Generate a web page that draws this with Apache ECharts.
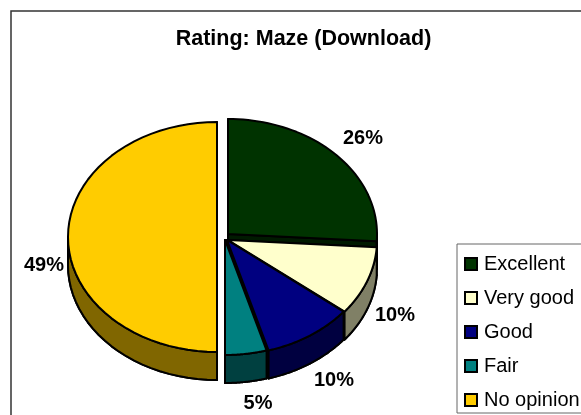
<!DOCTYPE html>
<html>
<head>
<meta charset="utf-8">
<style>html,body{margin:0;padding:0;background:#fff}#chart{width:581px;height:415px}</style>
<script src="https://cdn.jsdelivr.net/npm/echarts@6/dist/echarts.min.js"></script>
</head>
<body>
<div id="chart"></div>
<script>
var categories = ['Excellent', 'Very good', 'Good', 'Fair', 'No opinion'];
// share of the disc each slice covers
var shares = [26, 9.7, 9.8, 4.5, 50];
var labels = ['26%', '10%', '10%', '5%', '49%'];

var faceColors = ['#003300', '#ffffcc', '#000080', '#008080', '#ffcc00'];
var wallColors = ['#001a00', '#808066', '#000040', '#004040', '#806600'];
var centers = [[228, 234], [228, 240], [227, 240], [225, 240], [217, 237]];
var labelPos = [[363, 138], [395, 315], [334, 380], [258, 403], [44, 265]];
var RX = 149, RY = 115, DEPTH = 28;
var font = 'Liberation Sans, Arial, sans-serif';

function sliceItem(i) {
  return function (params, api) {
    var total = shares.reduce(function (a, b) { return a + b; }, 0);
    var before = shares.slice(0, i).reduce(function (a, b) { return a + b; }, 0);
    var a0 = before / total * Math.PI * 2;
    var a1 = a0 + api.value(0) / total * Math.PI * 2;
    var c = centers[i];
    var arc = [], n = 48;
    for (var k = 0; k <= n; k++) {
      var t = a0 + (a1 - a0) * k / n;
      arc.push([c[0] + Math.sin(t) * RX, c[1] - Math.cos(t) * RY]);
    }
    function down(p) { return [p[0], p[1] + DEPTH]; }
    var face = [c].concat(arc);
    var wallStyle = {fill: wallColors[i], stroke: '#000', lineWidth: 2, lineJoin: 'round'};
    var children = [];
    // bottom, then the walls of both cuts and the rim, then the top face
    children.push({type: 'polygon', shape: {points: face.map(down)}, style: wallStyle});
    children.push({type: 'polygon', shape: {points: [c, arc[0], down(arc[0]), down(c)]}, style: wallStyle});
    children.push({type: 'polygon', shape: {points: [c, arc[n], down(arc[n]), down(c)]}, style: wallStyle});
    var rim = arc.filter(function (p, k) {
      var t = a0 + (a1 - a0) * k / n;
      return Math.cos(t) <= 0.02;
    });
    if (rim.length > 1) {
      children.push({type: 'polygon', shape: {points: rim.concat(rim.map(down).reverse())}, style: wallStyle});
    }
    children.push({type: 'polygon', shape: {points: face},
      style: {fill: faceColors[i], stroke: '#000', lineWidth: 2, lineJoin: 'round'}});
    children.push({type: 'text', z2: 10, style: {
      x: labelPos[i][0], y: labelPos[i][1], text: labels[i], align: 'center', verticalAlign: 'middle',
      font: 'bold 20px ' + font, fill: '#000'
    }});
    return {type: 'group', children: children};
  };
}

var series = categories.map(function (name, i) {
  return {
    name: name,
    type: 'custom',
    coordinateSystem: 'none',
    renderItem: sliceItem(i),
    itemStyle: {color: faceColors[i], borderColor: '#000', borderWidth: 1.5},
    data: [[shares[i]]]
  };
});

var chart = echarts.init(document.getElementById('chart'), null, {renderer: 'canvas'});
chart.setOption({
  animation: false,
  title: {
    text: 'Rating: Maze (Download)',
    left: 298.5, top: 23, textAlign: 'center',
    textStyle: {fontFamily: font, fontSize: 21.5, fontWeight: 'bold', color: '#000'}
  },
  graphic: [{
    type: 'rect', silent: true, z: -1,
    shape: {x: 11, y: 11, width: 640, height: 480},
    style: {fill: '#fff', stroke: '#333', lineWidth: 1.5}
  }],
  legend: {
    data: categories,
    orient: 'vertical',
    left: 457, top: 244,
    padding: [10, 4, 3, 7],
    itemWidth: 12, itemHeight: 12, itemGap: 14,
    icon: 'rect',
    borderColor: '#666', borderWidth: 1,
    textStyle: {fontFamily: font, fontSize: 20, color: '#000', padding: [0, 0, 0, 2]}
  },
  series: series
});
</script>
</body>
</html>
